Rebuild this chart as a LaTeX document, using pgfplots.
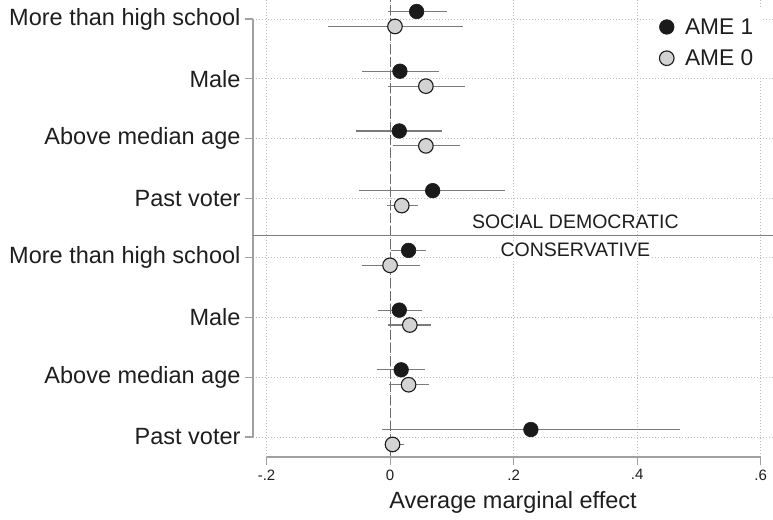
\documentclass[border=0pt]{standalone}
\usepackage{pgfplots}
\usepackage{pgfplotstable}
\pgfplotsset{compat=1.18}
\usepackage{fontspec}
\setmainfont{Liberation Sans}
\definecolor{txt}{HTML}{1E1E1E}
\definecolor{axgray}{HTML}{A0A0A0}
\definecolor{gridgray}{HTML}{BDBDBD}
\definecolor{errgray}{HTML}{7A7A7A}
\definecolor{ameone}{HTML}{1A1A1A}
\definecolor{amezero}{HTML}{D3D3D3}

\pgfplotstableread{
y      est    lo      hi
8.125  0.043  -0.004  0.092
7.125  0.016  -0.045  0.080
6.125  0.015  -0.055  0.084
5.125  0.069  -0.050  0.186
4.125  0.030   0.001  0.059
3.125  0.015  -0.020  0.052
2.125  0.018  -0.021  0.057
1.125  0.228  -0.013  0.470
}\ameA

\pgfplotstableread{
y      est    lo      hi
7.875  0.008  -0.100  0.118
6.875  0.058  -0.004  0.121
5.875  0.058   0.004  0.114
4.875  0.019  -0.005  0.046
3.875  0.000  -0.046  0.049
2.875  0.032  -0.003  0.067
1.875  0.030  -0.002  0.063
0.875  0.004  -0.007  0.022
}\ameB

\begin{document}
\begin{tikzpicture}
\begin{axis}[
  name=ax,
  scale only axis,
  width=520pt, height=457pt,
  xmin=-0.2219, xmax=0.62,
  ymin=0.665, ymax=8.318,
  axis line style={draw=none},
  xtick={-0.2,0,0.2,0.4,0.6},
  xticklabels={-.2,0,.2,.4,.6},
  ytick={1,2,3,4,5,6,7,8},
  yticklabels={Past voter,Above median age,Male,More than high school,Past voter,Above median age,Male,More than high school},
  xtick pos=bottom, ytick pos=left,
  tick align=outside,
  major tick length=8pt,
  tick style={color=axgray, line width=1.1pt},
  x tick label style={font=\fontsize{15}{17}\selectfont, text=txt, yshift=-1pt},
  y tick label style={font=\fontsize{23.5}{26}\selectfont, text=txt, xshift=-1pt},
  /pgf/number format/assume math mode=true,
  grid=major,
  major grid style={color=gridgray, line width=0.9pt, dash pattern=on 1pt off 2pt},
  xlabel={Average marginal effect},
  xlabel style={font=\fontsize{23.5}{26}\selectfont, text=txt, yshift=-4pt},
  legend image code/.code={\draw[#1] plot coordinates {(0pt,0pt)};},
  legend style={draw=none, fill=white, font=\fontsize{22.7}{25}\selectfont, text=txt,
    at={(rel axis cs:0.9815,0.982)}, anchor=north east, row sep=4pt,
    inner sep=5pt, column sep=6pt,
    nodes={inner sep=5pt}},
  legend cell align=left,
  clip=false,
]
% zero reference line
\draw[color=gray!85!black, line width=1.1pt, dash pattern=on 10pt off 3pt]
  (axis cs:0,0.665) -- (axis cs:0,8.318);
% axis lines (Stata style: span tick range)
\draw[color=axgray, line width=1.1pt] (axis cs:-0.2219,1) -- (axis cs:-0.2219,8);
\draw[color=axgray, line width=1.1pt] (axis cs:-0.2,0.665) -- (axis cs:0.6,0.665);
% panel separator
\draw[color=gray, line width=1.1pt] (axis cs:-0.2219,4.368) -- (axis cs:0.62,4.368);
\node[anchor=base, font=\fontsize{19.5}{22}\selectfont, text=txt] at (axis cs:0.3,4.485) {SOCIAL DEMOCRATIC};
\node[anchor=base, font=\fontsize{19.5}{22}\selectfont, text=txt, fill=white, inner sep=1pt] at (axis cs:0.3,4.017) {CONSERVATIVE};

\addplot[only marks, mark=*, mark size=7.3pt, mark options={fill=ameone, draw=ameone, line width=0.6pt},
  error bars/.cd, x dir=both, x explicit,
  error bar style={color=errgray, line width=1.1pt}, error mark=none]
  table[x=est, y=y,
    x error plus expr=\thisrow{hi}-\thisrow{est},
    x error minus expr=\thisrow{est}-\thisrow{lo}] {\ameA};
\addlegendentry{AME 1}
\addplot[only marks, mark=*, mark size=7.3pt, mark options={fill=amezero, draw=ameone, line width=1.1pt},
  error bars/.cd, x dir=both, x explicit,
  error bar style={color=errgray, line width=1.1pt}, error mark=none]
  table[x=est, y=y,
    x error plus expr=\thisrow{hi}-\thisrow{est},
    x error minus expr=\thisrow{est}-\thisrow{lo}] {\ameB};
\addlegendentry{AME 0}
\end{axis}
\pgfresetboundingbox
\path[use as bounding box] ([xshift=-253pt,yshift=-62pt]ax.south west) rectangle (ax.north east);
\end{tikzpicture}
\end{document}
